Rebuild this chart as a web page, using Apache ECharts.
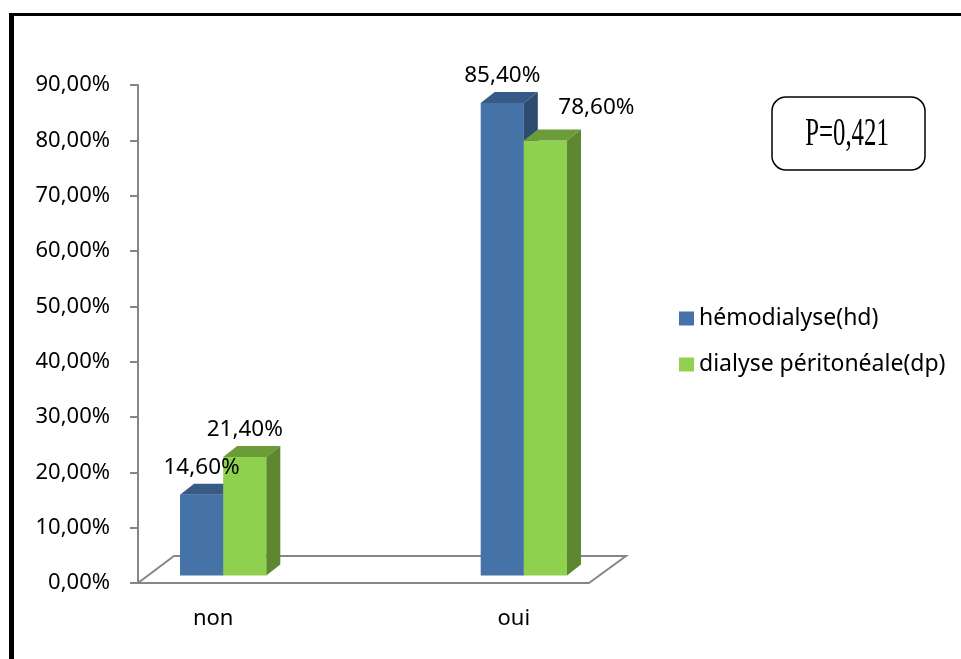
<!DOCTYPE html>
<html>
<head>
<meta charset="utf-8">
<script src="https://cdn.jsdelivr.net/npm/echarts@6/dist/echarts.min.js"></script>
<style>
  html, body { margin: 0; padding: 0; background: #fff; }
  #main { width: 961px; height: 659px; }
</style>
</head>
<body>
<div id="main"></div>
<script>
// données
var categories = ['non', '', 'oui'];
var hdValues = [14.6, null, 85.4];
var dpValues = [21.4, null, 78.6];
var yTicks = [0, 10, 20, 30, 40, 50, 60, 70, 80, 90];
var pValue = 'P=0,421';

var mychart = echarts.init(document.getElementById('main'));

var FONT = '"Noto Sans", "Open Sans", sans-serif';
var DX = 14, DY = 11;         // profondeur d'une barre
var SHIFT_X = 10, SHIFT_Y = 7.5; // recul des barres sur le plancher

function fmt(v) {
    return v.toFixed(2).replace('.', ',') + '%';
}

function makeBar(side, colors) {
    return function (params, api) {
        var v = api.value(1);
        if (v == null || isNaN(v)) return;
        var cat = api.value(0);
        var base = api.coord([cat, 0]);
        var top = api.coord([cat, v]);
        var catW = api.size([1, 0])[0];
        var bw = catW * 0.287;
        var cx = base[0] + SHIFT_X;
        var x0 = side === 0 ? cx - bw : cx;
        var yb = base[1] - SHIFT_Y;
        var yt = top[1] - SHIFT_Y;
        var lx = x0 + bw / 2, ly = yt - DY - 16;
        // étiquette décalée pour éviter le chevauchement
        if (side === 1 && cat === 2) { lx += 51; ly -= 6; }
        return {
            type: 'group',
            children: [
                { type: 'rect', shape: { x: x0, y: yt, width: bw, height: yb - yt }, style: { fill: colors[0] } },
                { type: 'polygon', shape: { points: [[x0, yt], [x0 + DX, yt - DY], [x0 + bw + DX, yt - DY], [x0 + bw, yt]] }, style: { fill: colors[1] } },
                { type: 'polygon', shape: { points: [[x0 + bw, yt], [x0 + bw + DX, yt - DY], [x0 + bw + DX, yb - DY], [x0 + bw, yb]] }, style: { fill: colors[2] } },
                { type: 'text', z2: 100, x: lx, y: ly, style: { text: fmt(v), fill: '#000', font: '22.5px ' + FONT, align: 'center', verticalAlign: 'middle' } }
            ]
        };
    };
}

var option = {
    animation: false,
    grid: { left: 138, top: 85, right: 372, bottom: 76 },
    legend: {
        data: ['hémodialyse(hd)', 'dialyse péritonéale(dp)'],
        orient: 'vertical',
        left: 674, top: 302,
        icon: 'rect',
        itemWidth: 15, itemHeight: 14, itemGap: 23,
        textStyle: { fontSize: 23, fontFamily: FONT, color: '#000' }
    },
    xAxis: {
        type: 'category',
        data: categories,
        axisLine: { lineStyle: { color: '#868686', width: 2 } },
        axisTick: { length: 9, lineStyle: { color: '#868686', width: 2 } },
        axisLabel: { margin: 25, fontSize: 22, fontFamily: FONT, color: '#000' }
    },
    yAxis: {
        type: 'value',
        min: 0, max: 90, interval: 10,
        splitLine: { show: false },
        axisLine: { show: true, lineStyle: { color: '#868686', width: 2 } },
        axisTick: { show: true, length: 8, lineStyle: { color: '#868686', width: 2 } },
        axisLabel: { margin: 28, fontSize: 22, fontFamily: FONT, color: '#000', formatter: fmt }
    },
    series: [
        {
            name: 'plancher',
            type: 'custom',
            z: 1,
            data: [[0, 0]],
            renderItem: function (params, api) {
                var cs = params.coordSys;
                var yb = cs.y + cs.height;
                return {
                    type: 'polyline',
                    shape: { points: [[cs.x, yb], [cs.x + 36, yb - 27], [cs.x + cs.width + 37, yb - 27], [cs.x + cs.width, yb]] },
                    style: { stroke: '#868686', lineWidth: 2, fill: null }
                };
            }
        },
        {
            name: 'hémodialyse(hd)',
            type: 'custom',
            z: 2,
            itemStyle: { color: '#4572A7' },
            data: hdValues.map(function (v, i) { return [i, v]; }),
            renderItem: makeBar(0, ['#4572A7', '#375A87', '#2E4B70'])
        },
        {
            name: 'dialyse péritonéale(dp)',
            type: 'custom',
            z: 2,
            itemStyle: { color: '#92D050' },
            data: dpValues.map(function (v, i) { return [i, v]; }),
            renderItem: makeBar(1, ['#8FD14F', '#6C9B3A', '#5E8732'])
        }
    ],
    graphic: [
        { type: 'line', shape: { x1: 11.5, y1: 13, x2: 11.5, y2: 670 }, style: { stroke: '#000', lineWidth: 5 } },
        { type: 'line', shape: { x1: 9, y1: 14.5, x2: 970, y2: 14.5 }, style: { stroke: '#000', lineWidth: 3 } },
        { type: 'rect', shape: { x: 772, y: 97, width: 153, height: 73, r: 14 }, style: { fill: '#fff', stroke: '#000', lineWidth: 1.5 } },
        { type: 'text', x: 847, y: 134, scaleX: 0.62, style: { text: pValue, font: '40px "Liberation Serif", serif', fill: '#000', align: 'center', verticalAlign: 'middle' } }
    ]
};

mychart.setOption(option);

window.addEventListener('resize', function () {
    mychart.resize();
});
</script>
</body>
</html>
